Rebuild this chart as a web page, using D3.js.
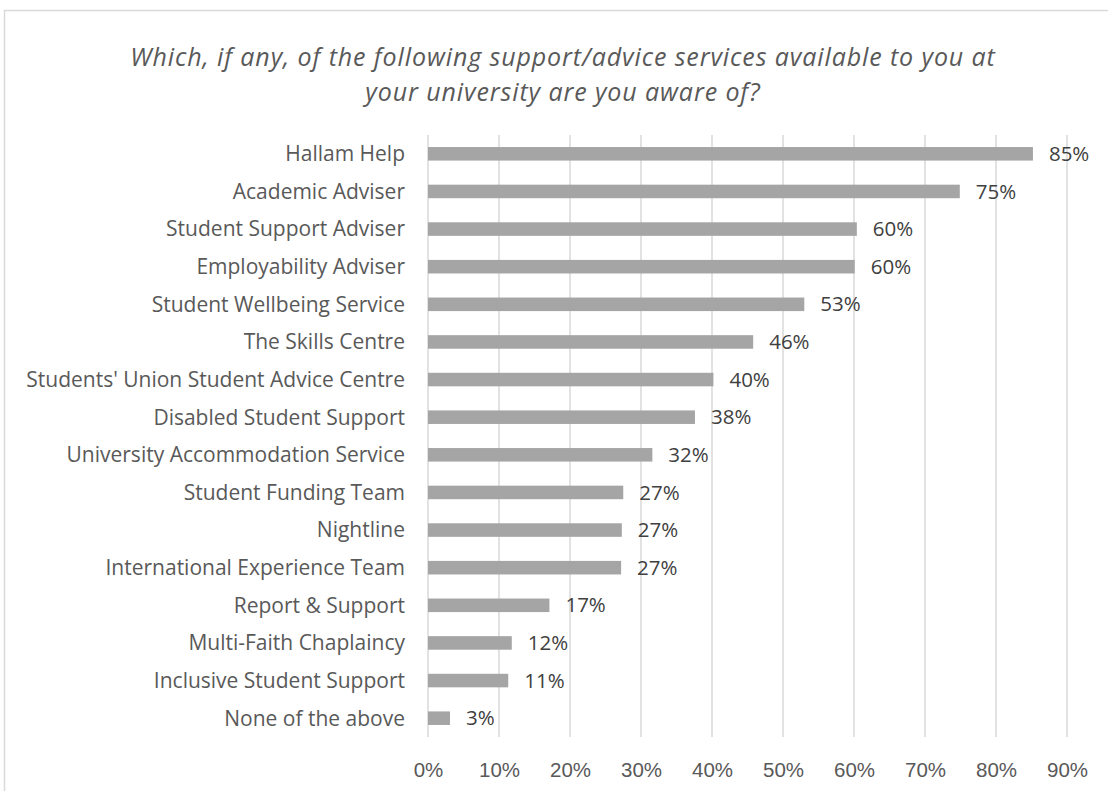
<!DOCTYPE html>
<html lang="en">
<head>
  <meta charset="UTF-8">
  <title>Support/advice services awareness</title>
  <script src="https://d3js.org/d3.v7.min.js"></script>
  <style>
    body {
      margin: 0;
      background: #fff;
      font-family: "Open Sans", sans-serif;
    }
    .title {
      font-style: italic;
      font-size: 25px;
      letter-spacing: 0.9px;
      fill: #595959;
    }
    .cat-label {
      font-size: 21px;
      fill: #595959;
    }
    .val-label {
      font-size: 20.5px;
      fill: #404040;
    }
    .tick text {
      font-size: 20.5px;
      fill: #595959;
    }
  </style>
</head>
<body>
  <svg width="1108" height="791"></svg>

  <script>
    const categories = [
      "Hallam Help",
      "Academic Adviser",
      "Student Support Adviser",
      "Employability Adviser",
      "Student Wellbeing Service",
      "The Skills Centre",
      "Students' Union Student Advice Centre",
      "Disabled Student Support",
      "University Accommodation Service",
      "Student Funding Team",
      "Nightline",
      "International Experience Team",
      "Report & Support",
      "Multi-Faith Chaplaincy",
      "Inclusive Student Support",
      "None of the above"
    ];
    const values = [85.2, 74.9, 60.4, 60.1, 53.0, 45.8, 40.2, 37.6, 31.6, 27.5, 27.3, 27.2, 17.1, 11.8, 11.3, 3.1];
    const valueLabels = ["85%", "75%", "60%", "60%", "53%", "46%", "40%", "38%", "32%", "27%", "27%", "27%", "17%", "12%", "11%", "3%"];
    const xTicks = [0, 10, 20, 30, 40, 50, 60, 70, 80, 90];
    const titleLines = [
      "Which, if any, of the following support/advice services available to you at",
      "your university are you aware of?"
    ];

    const svg = d3.select("svg");
    const margin = {top: 135, left: 428},
          width = 1067 - 428,
          height = 737 - 135;

    // chart frame (cut off on the right and bottom)
    svg.append("rect")
      .attr("x", 4.5).attr("y", 10.5)
      .attr("width", 1130).attr("height", 820)
      .attr("fill", "#fff")
      .attr("stroke", "#d9d9d9")
      .attr("stroke-width", 1.5);

    svg.append("text")
      .attr("class", "title")
      .attr("text-anchor", "middle")
      .selectAll("tspan")
      .data(titleLines)
      .join("tspan")
        .attr("x", 563)
        .attr("y", (d, i) => 65.5 + i * 35)
        .text(d => d);

    const g = svg.append("g")
      .attr("transform", `translate(${margin.left},${margin.top})`);

    const x = d3.scaleLinear().domain([0, 90]).range([0, width]);
    const y = d3.scaleBand().domain(categories).range([0, height]).paddingInner(0.64).paddingOuter(0.32);

    // gridlines
    g.selectAll(".grid")
      .data(xTicks)
      .join("line")
        .attr("class", "grid")
        .attr("x1", d => x(d)).attr("x2", d => x(d))
        .attr("y1", 0).attr("y2", height)
        .attr("stroke", "#d9d9d9")
        .attr("stroke-width", 1.5);

    // x axis labels
    const xAxis = g.append("g")
      .attr("transform", `translate(0,${height})`)
      .call(d3.axisBottom(x).tickValues(xTicks).tickFormat(d => d + "%").tickSize(0).tickPadding(25));
    xAxis.select(".domain").remove();

    // bars
    g.selectAll(".bar")
      .data(values)
      .join("rect")
        .attr("class", "bar")
        .attr("x", x(0))
        .attr("y", (d, i) => y(categories[i]))
        .attr("width", d => x(d) - x(0))
        .attr("height", y.bandwidth())
        .attr("fill", "#a5a5a5");

    // category labels
    g.selectAll(".cat-label")
      .data(categories)
      .join("text")
        .attr("class", "cat-label")
        .attr("x", -23)
        .attr("y", d => y(d) + y.bandwidth() / 2)
        .attr("dy", "0.35em")
        .attr("text-anchor", "end")
        .text(d => d);

    // value labels
    g.selectAll(".val-label")
      .data(values)
      .join("text")
        .attr("class", "val-label")
        .attr("x", d => x(d) + 16)
        .attr("y", (d, i) => y(categories[i]) + y.bandwidth() / 2)
        .attr("dy", "0.35em")
        .text((d, i) => valueLabels[i]);
  </script>
</body>
</html>
